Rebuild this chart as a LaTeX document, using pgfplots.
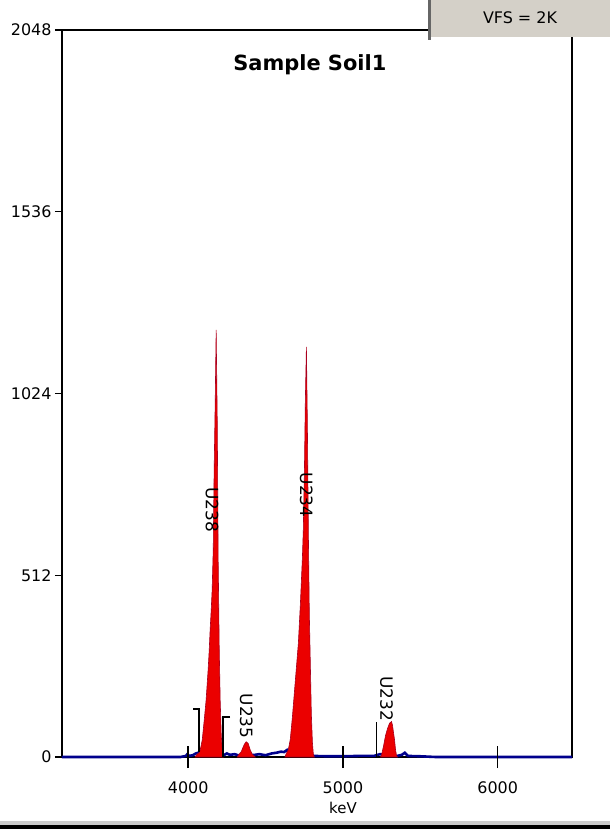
\documentclass[border=0pt]{standalone}
\usepackage{fontspec}
\setmainfont{DejaVu Sans}
\usepackage{pgfplots}
\pgfplotsset{compat=1.18}
\definecolor{spec}{RGB}{0,0,140}
\definecolor{pk}{RGB}{235,0,0}
\definecolor{pkd}{RGB}{170,0,30}
\definecolor{winframe}{RGB}{212,208,200}
\begin{document}
\begin{tikzpicture}
\begin{axis}[
  at={(0bp,0bp)}, anchor=south west,
  scale only axis, width=510bp, height=727bp,
  xmin=3185, xmax=6480, ymin=0, ymax=2048,
  xtick={4000,5000,6000}, ytick={0,512,1024,1536,2048},
  axis line style={line width=1.6bp, black},
  tick align=outside, major tick length=7bp,
  tick style={line width=1.4bp, black},
  xtick pos=bottom, ytick pos=left,
  xtick style={draw=none},
  xticklabel style={yshift=-14bp},
  /pgf/number format/1000 sep={},
  /pgf/number format/assume math mode=true,
  tick label style={font=\fontsize{16}{19}\selectfont},
  clip=false,
  title={Sample Soil1},
  title style={font=\bfseries\fontsize{21}{25}\selectfont, at={(axis description cs:0.486,0.944)}, anchor=center},
  xlabel={keV},
  xlabel style={font=\fontsize{15}{18}\selectfont, at={(axis description cs:0.551,0)}, anchor=center, yshift=-51bp},
]
% background spectrum
\addplot[spec, line width=2.6bp] coordinates {
(3185,0) (3950,0) (3985,3) (3995,8) (4005,3) (4030,5) (4050,10) (4065,12) (4080,5)
(4230,5) (4250,10) (4270,6) (4300,8) (4330,4) (4430,6) (4460,8) (4500,5) (4540,10)
(4570,12) (4600,15) (4620,14) (4640,20) (4660,10) (4810,3) (4900,2) (5000,2) (5100,3)
(5200,3) (5240,8) (5350,3) (5380,6) (5400,12) (5420,3) (5500,2) (5600,0) (6480,0)};
% x ticks crossing the baseline
\addplot[black, line width=1.4bp] coordinates {(4000,-31) (4000,31)};
\addplot[black, line width=1.4bp] coordinates {(5000,-31) (5000,31)};
\addplot[black, line width=1.4bp] coordinates {(6000,-31) (6000,31)};
% U238
\addplot[fill=pk, draw=pkd, line width=0.6bp] coordinates {
(4045,0) (4058,8) (4071,12) (4078,20) (4091,48) (4104,104) (4116,160) (4129,245) (4136,300)
(4142,358) (4149,414) (4155,470) (4162,583) (4168,808) (4175,1006) (4181,1203)
(4188,949) (4194,555) (4201,301) (4207,160) (4214,62) (4220,20) (4227,0)} \closedcycle;
% U235
\addplot[fill=pk, draw=pkd, line width=0.6bp] coordinates {
(4318,0) (4324,5) (4343,15) (4362,35) (4375,43) (4388,38) (4401,20) (4414,8) (4427,3) (4433,0)} \closedcycle;
% U234
\addplot[fill=pk, draw=pkd, line width=0.6bp] coordinates {
(4625,0) (4634,10) (4647,20) (4660,50) (4673,110) (4686,180) (4699,250) (4712,320)
(4725,430) (4738,560) (4744,640) (4751,800) (4757,1000) (4764,1155) (4770,950)
(4777,620) (4783,400) (4790,250) (4796,120) (4803,40) (4809,8) (4815,0)} \closedcycle;
% U232
\addplot[fill=pk, draw=pkd, line width=0.6bp] coordinates {
(5243,0) (5249,5) (5262,30) (5275,60) (5288,80) (5301,95) (5314,100) (5320,90)
(5333,50) (5340,20) (5346,5) (5352,0)} \closedcycle;
% ROI markers
\addplot[black, line width=1.6bp] coordinates {(4032,135) (4071,135) (4071,14)};
\addplot[black, line width=1.6bp] coordinates {(4272,113) (4227,113) (4227,0)};
\addplot[black, line width=1bp] coordinates {(5217,0) (5217,99)};
% labels
\node[rotate=-90, font=\fontsize{17}{20}\selectfont] at (axis cs:4155,696) {U238};
\node[rotate=-90, font=\fontsize{17}{20}\selectfont] at (axis cs:4764,738) {U234};
\node[rotate=-90, font=\fontsize{17}{20}\selectfont] at (axis cs:4375,115) {U235};
\node[rotate=-90, font=\fontsize{17}{20}\selectfont] at (axis cs:5281,165) {U232};
\end{axis}
\fill[winframe] (366bp,720bp) rectangle (548bp,757bp);
\fill[black!60] (366bp,717bp) rectangle (369bp,757bp);
\node[font=\fontsize{16}{19}\selectfont] at (458bp,739bp) {VFS = 2K};
\fill[black!20] (-62bp,-68bp) rectangle (548bp,-64bp);
\fill[black] (-62bp,-72bp) rectangle (548bp,-68bp);
\pgfresetboundingbox
\path (-62bp,-72bp) rectangle (548bp,757bp);
\end{tikzpicture}
\end{document}
